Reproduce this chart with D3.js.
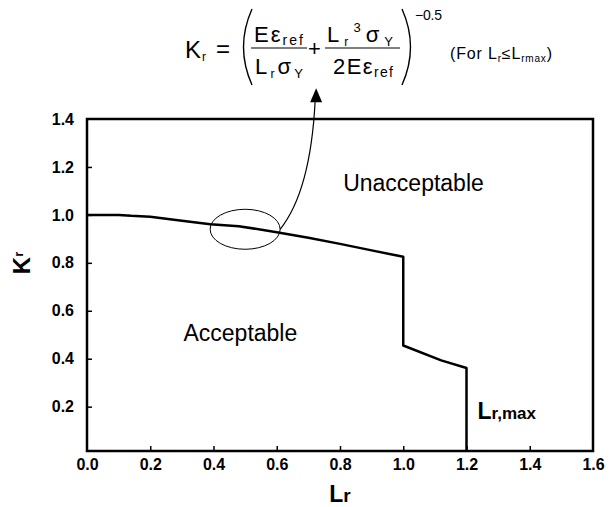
<!DOCTYPE html>
<html>
<head>
<meta charset="utf-8">
<script src="https://cdn.jsdelivr.net/npm/d3@7"></script>
<style>
  html, body { margin: 0; padding: 0; background: #fff; }
  svg { display: block; }
  text { font-family: Arial, "Liberation Sans", Helvetica, sans-serif; fill: #000; }
</style>
</head>
<body>
<svg id="chart" width="613" height="507"></svg>
<script>
// Failure assessment curve: Kr as a function of Lr (cut off at Lr,max)
const lrValues = [0, 0.1, 0.14, 0.2, 0.3, 0.39, 0.48, 0.6, 0.7, 0.8, 0.9, 1.0, 1.0, 1.12, 1.2, 1.2];
const krValues = [1.0, 1.0, 0.996, 0.992, 0.976, 0.961, 0.953, 0.928, 0.905, 0.879, 0.852, 0.825, 0.455, 0.393, 0.361, 0];

// Axis ticks
const xTicks = [0, 0.2, 0.4, 0.6, 0.8, 1.0, 1.2, 1.4, 1.6];
const yTicks = [0.2, 0.4, 0.6, 0.8, 1.0, 1.2, 1.4];

// Region labels (left edge of text in data units)
const regionLabels = [
  { text: "Unacceptable", lr: 0.81, kr: 1.1 },
  { text: "Acceptable", lr: 0.305, kr: 0.475 }
];

// Highlighted neighbourhood on the curve
const highlight = { lr: 0.5, kr: 0.94 };

const svg = d3.select("#chart");

const x = d3.scaleLinear().domain([0, 1.6]).range([87, 593]);
const y = d3.scaleLinear().domain([0.015, 1.4]).range([451, 119]);

const data = lrValues.map((v, i) => ({ lr: v, kr: krValues[i] }));

// clip to plot area
svg.append("defs").append("clipPath").attr("id", "plotClip")
  .append("rect")
  .attr("x", x(0)).attr("y", y(1.4))
  .attr("width", x(1.6) - x(0)).attr("height", y(0.015) - y(1.4));

// Axes with inward ticks
const xAxis = d3.axisBottom(x).tickValues(xTicks).tickFormat(d3.format(".1f"))
  .tickSizeInner(-5).tickSizeOuter(0).tickPadding(8);
const yAxis = d3.axisLeft(y).tickValues(yTicks).tickFormat(d3.format(".1f"))
  .tickSizeInner(-5).tickSizeOuter(0).tickPadding(13);

const gx = svg.append("g").attr("transform", `translate(0,${y(0.015)})`).call(xAxis);
const gy = svg.append("g").attr("transform", `translate(${x(0)},0)`).call(yAxis);
[gx, gy].forEach(g => {
  g.select(".domain").remove();
  g.selectAll(".tick line").attr("stroke", "#000").attr("stroke-width", 1.5);
  g.selectAll(".tick text")
    .attr("fill", "#000")
    .style("font-size", "16px")
    .style("font-weight", "bold")
    .style("font-family", "Arial, 'Liberation Sans', sans-serif");
});
// hide ticks that sit on the frame edges
gx.selectAll(".tick line").filter(d => d === 0 || d === 1.6).remove();
gy.selectAll(".tick line").filter(d => d === 1.4).remove();

// Frame
svg.append("rect")
  .attr("x", x(0)).attr("y", y(1.4))
  .attr("width", x(1.6) - x(0)).attr("height", y(0.015) - y(1.4))
  .attr("fill", "none").attr("stroke", "#000").attr("stroke-width", 2.5);

// Curve
svg.append("path")
  .datum(data)
  .attr("clip-path", "url(#plotClip)")
  .attr("fill", "none")
  .attr("stroke", "#000")
  .attr("stroke-width", 2.5)
  .attr("stroke-linejoin", "round")
  .attr("d", d3.line().x(d => x(d.lr)).y(d => y(d.kr)));

// Region labels
svg.selectAll(".region")
  .data(regionLabels)
  .join("text")
  .attr("class", "region")
  .attr("x", d => x(d.lr)).attr("y", d => y(d.kr))
  .style("font-size", "23px")
  .text(d => d.text);

// Lr,max label
const lmax = svg.append("text")
  .attr("x", x(1.2) + 11).attr("y", 419)
  .style("font-weight", "bold");
lmax.append("tspan").style("font-size", "23px").text("L");
lmax.append("tspan").style("font-size", "17px").text("r,max");

// Axis titles
const xt = svg.append("text")
  .attr("x", (x(0) + x(1.6)) / 2).attr("y", 502)
  .attr("text-anchor", "middle")
  .style("font-weight", "bold");
xt.append("tspan").style("font-size", "23px").text("L");
xt.append("tspan").style("font-size", "19px").text("r");

const yt = svg.append("text")
  .attr("transform", "translate(30,263) rotate(-90)")
  .attr("text-anchor", "middle")
  .style("font-weight", "bold");
yt.append("tspan").style("font-size", "24px").text("K");
yt.append("tspan").style("font-size", "13px").attr("dy", -7).text("r");

// Highlight ellipse and arrow to the equation
const ex = x(highlight.lr), ey = y(highlight.kr);
svg.append("ellipse")
  .attr("cx", ex).attr("cy", ey).attr("rx", 35).attr("ry", 20)
  .attr("fill", "none").attr("stroke", "#000").attr("stroke-width", 1);

svg.append("path")
  .attr("d", `M${ex + 35},${ey} C${ex + 55},${ey - 25} ${ex + 67},${ey - 70} ${ex + 70},${ey - 128}`)
  .attr("fill", "none").attr("stroke", "#000").attr("stroke-width", 1.2);
svg.append("path")
  .attr("d", `M${ex + 71},${ey - 141} L${ex + 65},${ey - 127} L${ex + 77},${ey - 127} Z`)
  .attr("fill", "#000");

// Equation
const eq = svg.append("g");
function mathText(xPos, baseline, parts, width, size) {
  const t = eq.append("text").attr("x", xPos).attr("y", baseline)
    .style("font-size", size + "px");
  if (width) t.attr("textLength", width).attr("lengthAdjust", "spacing");
  let shift = 0;
  parts.forEach(p => {
    const ts = t.append("tspan").text(p.t);
    const target = p.sub ? (p.drop || 4) : p.sup ? -10 : 0;
    if (target !== shift) { ts.attr("dy", target - shift); shift = target; }
    if (p.sub || p.sup) ts.style("font-size", (p.size || 12) + "px");
  });
  return t;
}

mathText(185, 58, [{ t: "K" }, { t: "r", sub: true, size: 12, drop: 3 }], 21, 24);
mathText(216, 57, [{ t: "=" }], null, 24);
// left paren
eq.append("path").attr("d", "M252,9 Q235,47 252,85")
  .attr("fill", "none").attr("stroke", "#000").attr("stroke-width", 1.4);
mathText(254, 42, [{ t: "Eε" }, { t: "ref", sub: true, size: 14, drop: 3 }], 49, 22);
eq.append("line").attr("x1", 251).attr("x2", 307).attr("y1", 48).attr("y2", 48)
  .attr("stroke", "#000").attr("stroke-width", 1.2);
mathText(255, 74, [{ t: "L" }, { t: "r", sub: true, size: 12 }, { t: "σ" }, { t: "Y", sub: true, size: 13 }], 48, 22);
mathText(308, 56, [{ t: "+" }], null, 22);
mathText(327, 42, [{ t: "L" }, { t: "r", sub: true, size: 12 }, { t: "3", sup: true, size: 13 }, { t: "σ" }, { t: "Y", sub: true, size: 13 }], 66, 22);
eq.append("line").attr("x1", 325).attr("x2", 400).attr("y1", 48).attr("y2", 48)
  .attr("stroke", "#000").attr("stroke-width", 1.2);
mathText(333, 74, [{ t: "2Eε" }, { t: "ref", sub: true, size: 14, drop: 3 }], 60, 22);
// right paren
eq.append("path").attr("d", "M402,9 Q419,47 402,85")
  .attr("fill", "none").attr("stroke", "#000").attr("stroke-width", 1.4);
mathText(415, 20, [{ t: "−0.5" }], 27, 14);
mathText(450, 59, [{ t: "(For L" }, { t: "r", sub: true, size: 10, drop: 3 }, { t: "≤L" }, { t: "rmax", sub: true, size: 10, drop: 3 }, { t: ")" }], 102, 16);
</script>
</body>
</html>
